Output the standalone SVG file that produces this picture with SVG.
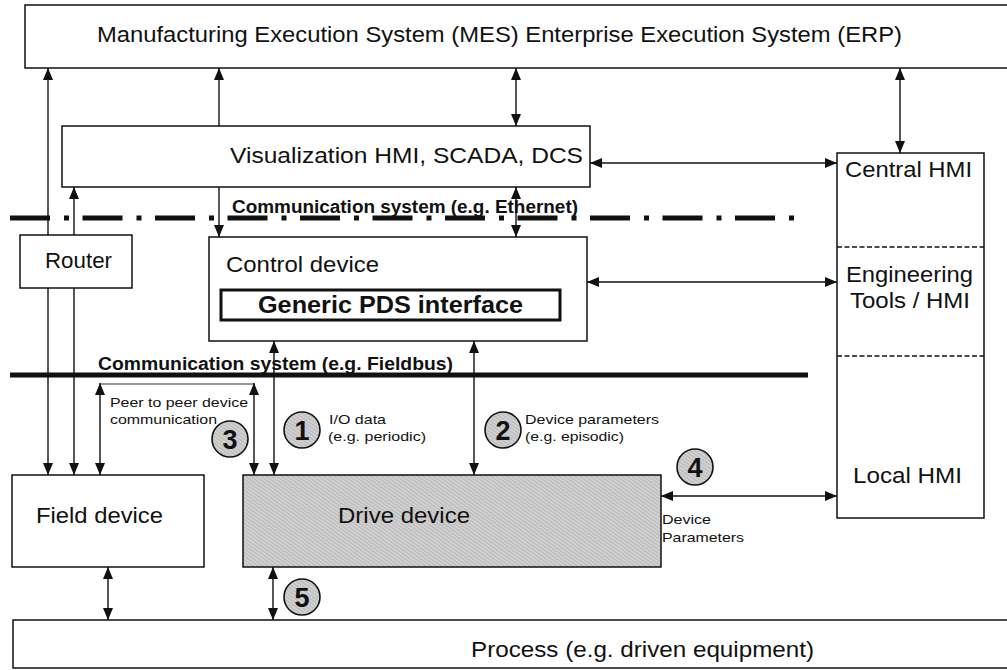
<svg xmlns="http://www.w3.org/2000/svg" width="1007" height="670" viewBox="0 0 1007 670">
  <style>
    .box { fill: #ffffff; stroke: #111111; stroke-width: 1.5; }
    .sep { fill: none; stroke: #111111; stroke-width: 1.5; stroke-dasharray: 5 2.5; }
    .wire { fill: none; stroke: #111111; stroke-width: 1.4; marker-start: url(#head); marker-end: url(#head); }
    .wire1 { fill: none; stroke: #111111; stroke-width: 1.4; marker-end: url(#head); }
    .thin { fill: none; stroke: #333333; stroke-width: 1.1; }
    .bus { fill: none; stroke: #111111; stroke-width: 5; }
    .t { font-family: "Liberation Sans", Arial, sans-serif; fill: #111111; }
    .lg { font-size: 22px; }
    .sm { font-size: 13.5px; }
    .bold { font-weight: bold; }
    .num { font-family: "Liberation Sans", Arial, sans-serif; font-size: 27px; font-weight: bold; fill: #111111; text-anchor: middle; }
    .badge { fill: url(#grain); stroke: #111111; stroke-width: 1.6; }
  </style>
  <defs>
    <marker id="head" viewBox="0 0 12 10" refX="12" refY="5" markerWidth="12" markerHeight="10" markerUnits="userSpaceOnUse" orient="auto-start-reverse">
      <path d="M0,0 L12,5 L0,10 z" fill="#111111"/>
    </marker>
    <!-- fine halftone texture for shaded shapes -->
    <pattern id="grain" width="3" height="3" patternUnits="userSpaceOnUse" patternTransform="rotate(35)">
      <rect width="3" height="3" fill="#d0d0d0"/>
      <rect width="3" height="1" fill="#bababa"/>
    </pattern>
  </defs>

  <!-- connectors -->
  <g id="connectors">
    <path class="wire" d="M48,68 V475"/>
    <path class="wire1" d="M74,235 V187"/>
    <path class="wire1" d="M74,288 V475"/>
    <path class="wire" d="M100,383 V475"/>
    <path class="thin" d="M100,384 H254"/>
    <path class="wire" d="M254,383 V475"/>
    <path class="wire" d="M219,68 V237"/>
    <path class="wire" d="M274,341 V475"/>
    <path class="wire" d="M474,341 V475"/>
    <path class="wire" d="M516,68 V126"/>
    <path class="wire" d="M516,187 V237"/>
    <path class="wire" d="M590,163 H837"/>
    <path class="wire" d="M900,68 V153"/>
    <path class="wire" d="M587,282 H837"/>
    <path class="wire" d="M661,496 H837"/>
    <path class="wire" d="M108,567 V620"/>
    <path class="wire" d="M273,567 V620"/>
  </g>

  <!-- communication buses -->
  <g id="ethernet">
    <path class="bus" d="M10,218 H795" stroke-dasharray="40 14 5 13.5"/>
    <text class="t bold" x="232" y="213" font-size="18" textLength="346" lengthAdjust="spacingAndGlyphs">Communication system (e.g. Ethernet)</text>
  </g>
  <g id="fieldbus">
    <path class="bus" d="M10,375 H808"/>
    <text class="t bold" x="98" y="370" font-size="18" textLength="355" lengthAdjust="spacingAndGlyphs">Communication system (e.g. Fieldbus)</text>
  </g>

  <!-- nodes -->
  <g id="mes-erp">
    <rect class="box" x="25" y="5" width="990" height="63"/>
    <text class="t lg" x="97" y="42" textLength="805" lengthAdjust="spacingAndGlyphs">Manufacturing Execution System (MES) Enterprise Execution System (ERP)</text>
  </g>

  <g id="visualization">
    <rect class="box" x="62" y="126" width="528" height="61"/>
    <text class="t lg" x="230" y="163" textLength="353" lengthAdjust="spacingAndGlyphs">Visualization HMI, SCADA,  DCS</text>
  </g>

  <g id="router">
    <rect class="box" x="20" y="235" width="112" height="53"/>
    <text class="t lg" x="45" y="268" textLength="67" lengthAdjust="spacingAndGlyphs">Router</text>
  </g>

  <g id="control-device">
    <rect class="box" x="209" y="237" width="378" height="104"/>
    <text class="t lg" x="226" y="272" textLength="153" lengthAdjust="spacingAndGlyphs">Control device</text>
    <rect x="221" y="290" width="339" height="30" fill="none" stroke="#111111" stroke-width="3"/>
    <text class="t bold" x="258" y="313" font-size="24" textLength="265" lengthAdjust="spacingAndGlyphs">Generic PDS interface</text>
  </g>

  <g id="hmi-column">
    <rect class="box" x="837" y="153" width="147" height="365"/>
    <line class="sep" x1="837" y1="247" x2="984" y2="247"/>
    <line class="sep" x1="837" y1="356" x2="984" y2="356"/>
    <text class="t lg" x="845" y="177" textLength="127" lengthAdjust="spacingAndGlyphs">Central HMI</text>
    <text class="t lg" x="846" y="282" textLength="127" lengthAdjust="spacingAndGlyphs">Engineering</text>
    <text class="t lg" x="850" y="308" textLength="120" lengthAdjust="spacingAndGlyphs">Tools / HMI</text>
    <text class="t lg" x="853" y="483" textLength="109" lengthAdjust="spacingAndGlyphs">Local HMI</text>
  </g>

  <g id="field-device">
    <rect class="box" x="12" y="475" width="192" height="92"/>
    <text class="t lg" x="36" y="523" textLength="127" lengthAdjust="spacingAndGlyphs">Field device</text>
  </g>

  <g id="drive-device">
    <rect x="243" y="475" width="418" height="92" fill="url(#grain)" stroke="#111111" stroke-width="1.5"/>
    <text class="t lg" x="338" y="523" textLength="132" lengthAdjust="spacingAndGlyphs">Drive device</text>
  </g>

  <g id="process">
    <rect class="box" x="13" y="620" width="1002" height="48"/>
    <text class="t lg" x="471" y="657" textLength="343" lengthAdjust="spacingAndGlyphs">Process (e.g. driven equipment)</text>
  </g>

  <!-- interface annotations -->
  <g id="label-peer">
    <text class="t sm" x="110" y="407" textLength="138" lengthAdjust="spacingAndGlyphs">Peer to peer device</text>
    <text class="t sm" x="110" y="424" textLength="107" lengthAdjust="spacingAndGlyphs">communication</text>
  </g>
  <g id="label-io">
    <text class="t sm" x="329" y="424" textLength="57" lengthAdjust="spacingAndGlyphs">I/O data</text>
    <text class="t sm" x="328" y="441" textLength="98" lengthAdjust="spacingAndGlyphs">(e.g. periodic)</text>
  </g>
  <g id="label-params">
    <text class="t sm" x="525" y="424" textLength="134" lengthAdjust="spacingAndGlyphs">Device parameters</text>
    <text class="t sm" x="525" y="441" textLength="99" lengthAdjust="spacingAndGlyphs">(e.g. episodic)</text>
  </g>
  <g id="label-local">
    <text class="t sm" x="662" y="524" textLength="49" lengthAdjust="spacingAndGlyphs">Device</text>
    <text class="t sm" x="662" y="542" textLength="82" lengthAdjust="spacingAndGlyphs">Parameters</text>
  </g>

  <!-- numbered badges -->
  <g id="badge-1"><circle class="badge" cx="302" cy="430" r="18"/><text class="num" x="302" y="440">1</text></g>
  <g id="badge-2"><circle class="badge" cx="503" cy="430" r="18"/><text class="num" x="503" y="440">2</text></g>
  <g id="badge-3"><circle class="badge" cx="230" cy="439" r="18"/><text class="num" x="230" y="449">3</text></g>
  <g id="badge-4"><circle class="badge" cx="695" cy="467" r="18"/><text class="num" x="695" y="477">4</text></g>
  <g id="badge-5"><circle class="badge" cx="302" cy="597" r="18"/><text class="num" x="302" y="607">5</text></g>
</svg>
